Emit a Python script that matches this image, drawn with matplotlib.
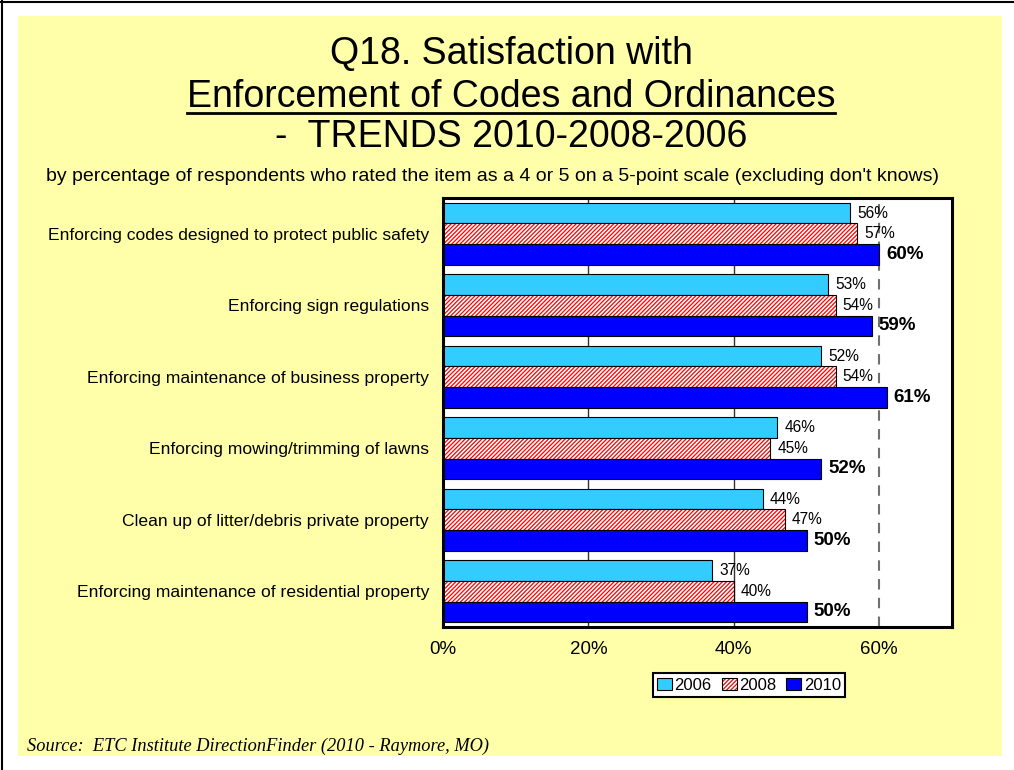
import matplotlib
matplotlib.use("Agg")
import matplotlib.pyplot as plt
import numpy as np
from matplotlib.patches import Rectangle
from matplotlib.lines import Line2D

plt.rcParams['font.family'] = ['Liberation Sans', 'DejaVu Sans']

categories = [
    "Enforcing codes designed to protect public safety",
    "Enforcing sign regulations",
    "Enforcing maintenance of business property",
    "Enforcing mowing/trimming of lawns",
    "Clean up of litter/debris private property",
    "Enforcing maintenance of residential property",
]
years = ["2006", "2008", "2010"]
vals_2006 = [56, 53, 52, 46, 44, 37]
vals_2008 = [57, 54, 54, 45, 47, 40]
vals_2010 = [60, 59, 61, 52, 50, 50]
x_ticks = [0, 20, 40, 60]
x_tick_labels = ["0%", "20%", "40%", "60%"]

W, H = 1014, 770
fig = plt.figure(figsize=(W / 100, H / 100), dpi=100)
fig.patch.set_facecolor("white")

# slide background panel and frame lines
fig.patches.append(Rectangle((18 / W, 1 - 756 / H), (1002 - 18) / W, (756 - 16) / H,
                             transform=fig.transFigure, facecolor="#FFFFAA",
                             edgecolor="none", zorder=-5))
fig.lines.append(Line2D([0, 1], [1 - 1.5 / H, 1 - 1.5 / H], transform=fig.transFigure,
                        color="black", lw=1.5, zorder=-4))
fig.lines.append(Line2D([2 / W, 2 / W], [0, 1], transform=fig.transFigure,
                        color="black", lw=1.5, zorder=-4))

ax = fig.add_axes([443 / W, 1 - 627 / H, (952 - 443) / W, (627 - 198) / H])
ax.set_zorder(2)
ax.set_facecolor("white")

y = np.arange(len(categories))
h = 0.287

c2006 = "#33CCFF"
c2010 = "#0000FF"

b06 = ax.barh(y - h, vals_2006, height=h, color=c2006, edgecolor="black", lw=0.8, zorder=3)
plt.rcParams['hatch.linewidth'] = 0.9
b08h = ax.barh(y, vals_2008, height=h, color="white", edgecolor="#FF0000", hatch="////////",
               lw=0, zorder=3)
b08e = ax.barh(y, vals_2008, height=h, fill=False, edgecolor="black", lw=0.8, zorder=4)
b10 = ax.barh(y + h, vals_2010, height=h, color=c2010, edgecolor="black", lw=0.8, zorder=3)

# reference lines
for xv in (20, 40):
    ax.axvline(xv, color="#333333", lw=1.0, zorder=1)
ax.axvline(60, color="#707070", lw=1.5, ls=(0, (5, 4)), zorder=1)

for i in range(len(categories)):
    ax.annotate(f"{vals_2006[i]}%", (vals_2006[i], y[i] - h), xytext=(5, 0),
                textcoords="offset points", va="center", ha="left", fontsize=11.2, zorder=6)
    ax.annotate(f"{vals_2008[i]}%", (vals_2008[i], y[i]), xytext=(5, 0),
                textcoords="offset points", va="center", ha="left", fontsize=11.2, zorder=6)
    ax.annotate(f"{vals_2010[i]}%", (vals_2010[i], y[i] + h), xytext=(5, 0),
                textcoords="offset points", va="center", ha="left", fontsize=13.5,
                fontweight="bold", zorder=6)

ax.set_xlim(0, 70)
ax.set_ylim(len(categories) - 0.5, -0.5)
ax.set_xticks(x_ticks)
ax.set_xticklabels(x_tick_labels, fontsize=13.5)
ax.set_yticks(y)
ax.set_yticklabels(categories, fontsize=12.6)
ax.tick_params(axis="x", length=0, pad=10)
ax.tick_params(axis="y", length=0, pad=10)
for s in ax.spines.values():
    s.set_linewidth(2.2)
    s.set_color("black")
    s.set_zorder(7)

leg = fig.legend([b06, (b08h, b08e), b10], years, loc="center",
                 bbox_to_anchor=(749 / W, 1 - 685 / H), ncol=3, fontsize=12,
                 frameon=True, fancybox=False, edgecolor="black", framealpha=1,
                 handlelength=0.9, handleheight=0.75, handletextpad=0.15,
                 columnspacing=0.6, borderpad=0.25, borderaxespad=0)
leg.get_frame().set_linewidth(1.5)
leg.set_zorder(5)

# titles
cx = 511 / W
fig.text(cx, 1 - 64 / H, "Q18. Satisfaction with", ha="center", va="baseline", fontsize=27)
t2 = fig.text(cx, 1 - 107 / H, "Enforcement of Codes and Ordinances", ha="center",
              va="baseline", fontsize=27)
fig.text(cx, 1 - 147 / H, "-  TRENDS 2010-2008-2006", ha="center", va="baseline", fontsize=27)
fig.text(492 / W, 1 - 181 / H,
         "by percentage of respondents who rated the item as a 4 or 5 on a 5-point scale (excluding don't knows)",
         ha="center", va="baseline", fontsize=14)
fig.text(27 / W, 1 - 751 / H, "Source:  ETC Institute DirectionFinder (2010 - Raymore, MO)",
         ha="left", va="baseline", fontsize=13.2, style="italic",
         family=["Liberation Serif", "DejaVu Serif"])

fig.canvas.draw()
bb = t2.get_window_extent().transformed(fig.transFigure.inverted())
uy = 1 - 113 / H
fig.lines.append(Line2D([bb.x0, bb.x1], [uy, uy], transform=fig.transFigure,
                        color="black", lw=2))

fig.savefig("out.png", dpi=100, facecolor=fig.get_facecolor())
